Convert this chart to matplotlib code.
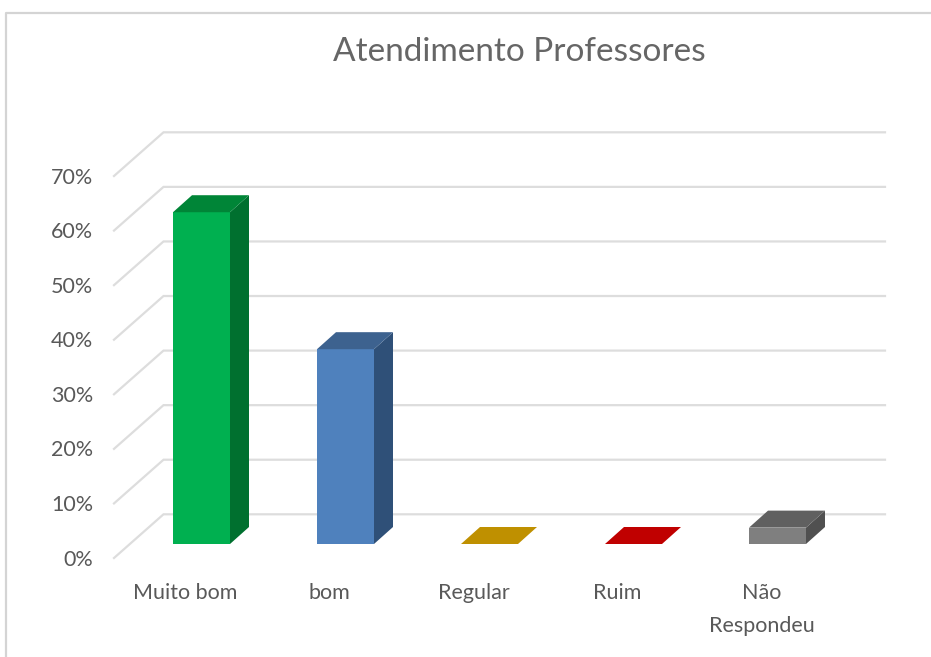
import matplotlib
matplotlib.use("Agg")
import matplotlib.pyplot as plt
from matplotlib.patches import Polygon

title = "Atendimento Professores"
categories = ["Muito bom", "bom", "Regular", "Ruim", "Não\nRespondeu"]
values = [60.8, 35.7, 0, 0, 3]
ticks = [0, 10, 20, 30, 40, 50, 60, 70]
tick_labels = ["0%", "10%", "20%", "30%", "40%", "50%", "60%", "70%"]
front_colors = ["#00B050", "#4F81BD", "#BF9000", "#C00000", "#7F7F7F"]
top_colors = ["#008537", "#3D628F", "#BF9000", "#C00000", "#606060"]
side_colors = ["#00702F", "#2F5078", "#BF9000", "#C00000", "#505050"]

W, H = 931, 657
PX_CAT = 144.0      # pixels per category
PX_PCT = 5.457      # pixels per percentage point
X0, Y0 = 201.5, 544 # pixel of first category centre, value 0

fig = plt.figure(figsize=(W / 100, H / 100), dpi=100, facecolor="white")
ax = fig.add_axes([0, 0, 1, 1])
ax.set_xlim(-X0 / PX_CAT, (W - X0) / PX_CAT)
ax.set_ylim(-(H - Y0) / PX_PCT, Y0 / PX_PCT)
ax.axis("off")

dx = lambda px: px / PX_CAT
dy = lambda px: px / PX_PCT
GRID = "#DDDDDD"
TXT = "#595959"
FONT = ["Lato", "DejaVu Sans"]
plt.rcParams["font.family"] = FONT

# chart frame
frame_x = -X0 / PX_CAT + dx(6)
frame_y = dy(Y0 - 12.5)
ax.plot([frame_x, frame_x, ax.get_xlim()[1]],
        [ax.get_ylim()[0], frame_y, frame_y], color="#D4D4D4", lw=1.6, zorder=1)

# floor/wall gridlines
wall_left = dx(163.5 - X0)
wall_right = dx(885 - X0)
side_left = dx(114 - X0)
for t, lab in zip(ticks, tick_labels):
    back = t + dy(29.7)
    front = t - dy(14)
    ax.plot([side_left, wall_left, wall_right], [front, back, back],
            color=GRID, lw=1.6, zorder=1, solid_joinstyle="miter")
    ax.text(dx(93 - X0), front - dy(1.5), lab, ha="right", va="center",
            fontsize=15.5, color=TXT, family=FONT)

# 3D bars
bw = dx(57)
ddx, ddy = dx(19), dy(17)
for i, (v, fc, tc, sc) in enumerate(zip(values, front_colors, top_colors, side_colors)):
    l, r = i - bw / 2, i + bw / 2
    if v > 0:
        ax.bar(i, v, width=bw, color=fc, zorder=3, linewidth=0)
        ax.add_patch(Polygon([(r, 0), (r + ddx, ddy), (r + ddx, v + ddy), (r, v)],
                             closed=True, fc=sc, ec="none", zorder=3))
    ax.add_patch(Polygon([(l, v), (r, v), (r + ddx, v + ddy), (l + ddx, v + ddy)],
                         closed=True, fc=tc, ec="none", zorder=3))

# category labels
for i, c in enumerate(categories):
    ax.text(i + dx(-16), dy(-39), c, ha="center", va="top", fontsize=15.5,
            color=TXT, linespacing=1.8, family=FONT)

ax.text(dx(519.5 - X0), dy(Y0 - 52), title, ha="center", va="center",
        fontsize=24, color="#666666", family=FONT)

fig.savefig("out.png", dpi=100, facecolor="white")
